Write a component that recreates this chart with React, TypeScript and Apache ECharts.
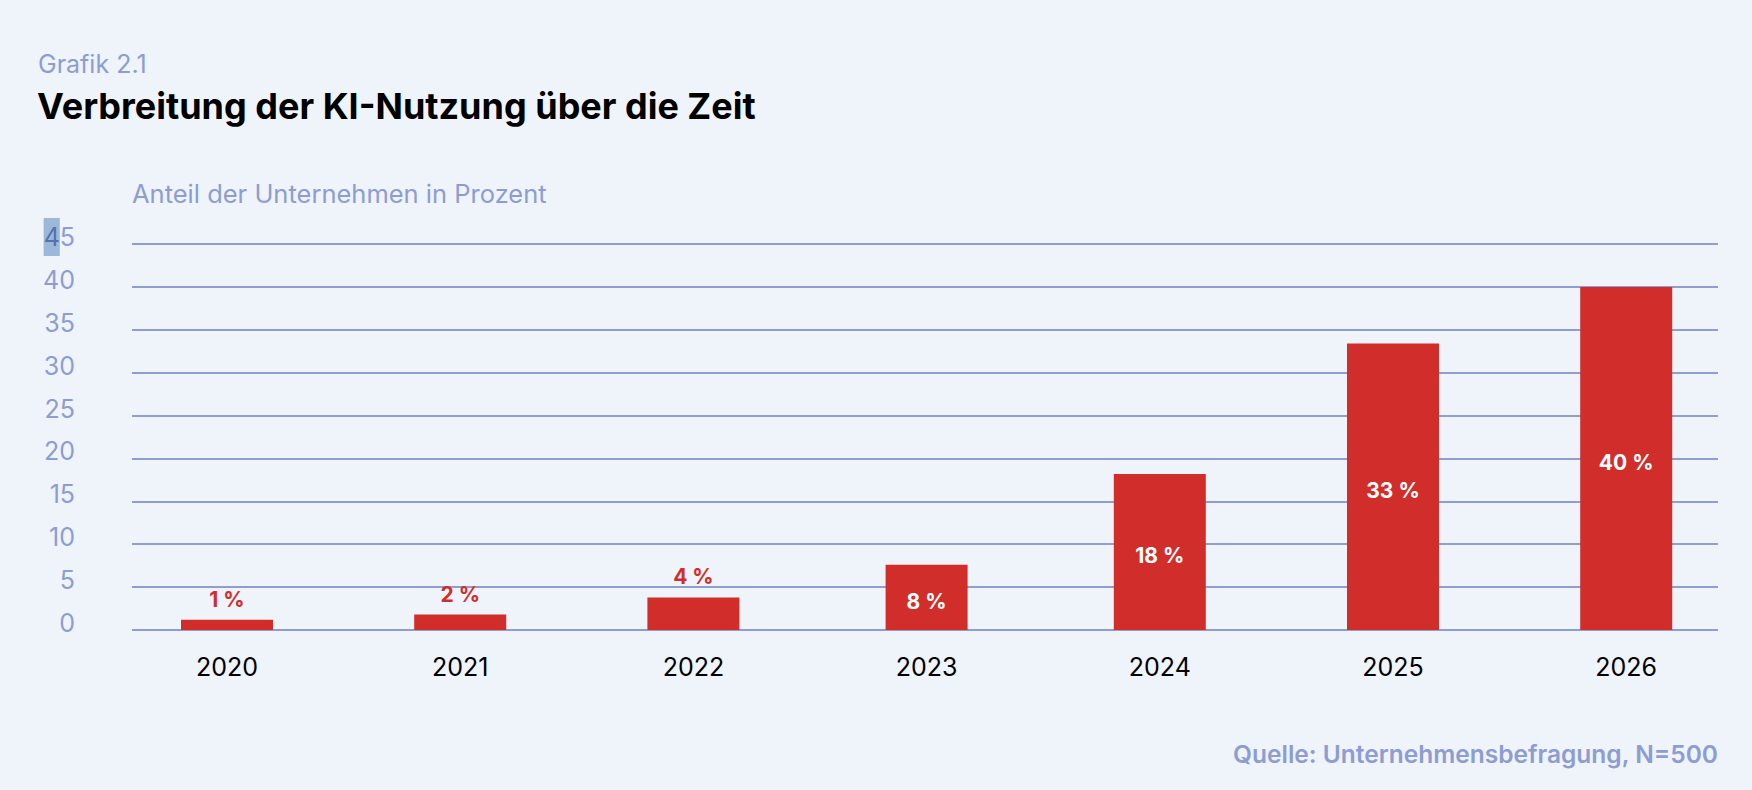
import React, { useEffect, useRef } from "react";
import * as echarts from "echarts";

const years = ["2020", "2021", "2022", "2023", "2024", "2025", "2026"];
const shares = [1.2, 1.8, 3.8, 7.6, 18.2, 33.4, 40];
const narrowYears = ["2023"];
const yMin = 0;
const yMax = 45;
const yStep = 5;
const kicker = "Grafik 2.1";
const titleText = "Verbreitung der KI-Nutzung über die Zeit";
const axisTitle = "Anteil der Unternehmen in Prozent";
const sourceText = "Quelle: Unternehmensbefragung, N=500";

const BG = "#eff3fa";
const BLUE = "#8d9dd1";
const GRID = "#8f9ecf";
const RED = "#d12e2b";
const FONT = "Inter";

export default function App() {
  const ref = useRef<HTMLDivElement>(null);
  useEffect(() => {
    document.body.style.margin = "0";
    document.body.style.background = BG;
    const chart = echarts.init(ref.current!, null, { renderer: "svg" });

    const makeItem = (v: number) => {
      const outside = v < 5;
      return {
        value: v,
        label: outside
          ? { position: "top", distance: 10, color: RED }
          : { position: "inside", color: "#ffffff", offset: [0, 4] },
      };
    };
    const wideData = shares.map((v, i) =>
      narrowYears.includes(years[i]) ? "-" : makeItem(v)
    );
    const narrowData = shares.map((v, i) =>
      narrowYears.includes(years[i]) ? makeItem(v) : "-"
    );
    const labelBase = {
      show: true,
      fontFamily: FONT,
      fontSize: 21,
      fontWeight: 700,
      formatter: (p: any) => Math.round(p.value) + " %",
    };

    chart.setOption({
      animation: false,
      backgroundColor: BG,
      textStyle: { fontFamily: FONT },
      grid: [
        { left: 132, right: 34, top: 244, bottom: 160 },
        { left: 110.4, right: 9.2, top: 244, bottom: 160 },
      ],
      xAxis: [
        { gridIndex: 0, type: "category", data: years, show: false },
        {
          gridIndex: 1,
          type: "category",
          data: years,
          axisLine: { show: false },
          axisTick: { show: false },
          splitLine: { show: false },
          axisLabel: {
            color: "#000000",
            fontFamily: FONT,
            fontSize: 25,
            margin: 24,
          },
        },
        { gridIndex: 1, type: "category", data: years, show: false },
      ],
      yAxis: [
        {
          gridIndex: 0,
          type: "value",
          min: yMin,
          max: yMax,
          interval: yStep,
          axisLine: { show: false },
          axisTick: { show: false },
          splitLine: { show: true, lineStyle: { color: GRID, width: 2 } },
          axisLabel: {
            color: BLUE,
            fontFamily: FONT,
            fontSize: 25,
            margin: 57,
            padding: [0, 0, 14, 0],
            formatter: (v: number) => (v === yMax ? "{sel|4}5" : String(v)),
            rich: {
              sel: {
                backgroundColor: "#9cb8d8",
                color: "#5670b0",
                fontFamily: FONT,
                fontSize: 25,
                height: 38,
              },
            },
          },
        },
        { gridIndex: 1, type: "value", min: yMin, max: yMax, interval: yStep, show: false },
      ],
      series: [
        {
          type: "bar",
          xAxisIndex: 1,
          yAxisIndex: 1,
          data: wideData,
          barWidth: 92,
          itemStyle: { color: RED },
          label: labelBase,
          z: 3,
        },
        {
          type: "bar",
          xAxisIndex: 2,
          yAxisIndex: 1,
          data: narrowData,
          barWidth: 82,
          itemStyle: { color: RED },
          label: labelBase,
          z: 3,
        },
      ],
      graphic: [
        {
          type: "text",
          x: 38,
          y: 64,
          style: {
            text: kicker,
            fill: BLUE,
            font: `400 25px ${FONT}`,
            verticalAlign: "middle",
            textVerticalAlign: "middle",
          },
        },
        {
          type: "text",
          x: 37,
          y: 106,
          style: {
            text: titleText,
            fill: "#000000",
            font: `700 36px ${FONT}`,
            verticalAlign: "middle",
            textVerticalAlign: "middle",
          },
        },
        {
          type: "text",
          x: 132,
          y: 193,
          style: {
            text: axisTitle,
            fill: BLUE,
            font: `400 25.5px ${FONT}`,
            verticalAlign: "middle",
            textVerticalAlign: "middle",
          },
        },
        {
          type: "text",
          x: 1718,
          y: 754,
          style: {
            text: sourceText,
            fill: BLUE,
            font: `600 24.5px ${FONT}`,
            align: "right",
            textAlign: "right",
            verticalAlign: "middle",
            textVerticalAlign: "middle",
          },
        },
      ],
    });
    return () => chart.dispose();
  }, []);
  return <div ref={ref} style={{ width: 1752, height: 790 }} />;
}
